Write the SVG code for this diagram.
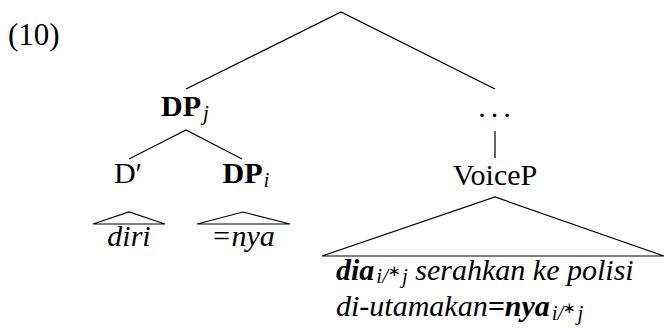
<svg xmlns="http://www.w3.org/2000/svg" width="665" height="333" viewBox="0 0 665 333" font-family="'Liberation Serif', 'Times New Roman', serif" font-size="30">
<style>
.sub{font-style:italic;font-size:21px;font-weight:normal}
.ss{font-style:normal;font-size:15px;font-weight:normal}
.e{stroke:#000;stroke-width:1.2;fill:none}
</style>
<rect width="665" height="333" fill="#fff"/>
<text x="8" y="45" font-size="31">(10)</text>
<g id="connectors">
<polyline class="e" points="186,89 341,12 495,89"/>
<polyline class="e" points="129,159 186,130 242,159"/>
<line class="e" x1="495" y1="131" x2="495" y2="158"/>
<polygon class="e" points="93,224 129,212 165,224"/>
<polygon class="e" points="197,224 243,212 290,224"/>
<polygon class="e" points="322,256 495,197 664,256"/>
</g>
<g id="dpj"><text x="185" y="116" font-weight="bold" text-anchor="middle">DP<tspan class="sub" dx="2" dy="4">j</tspan></text></g>
<g id="dprime"><text x="128" y="183" text-anchor="middle">D′</text></g>
<g id="dpi"><text x="246" y="183" font-weight="bold" text-anchor="middle">DP<tspan class="sub" dx="1" dy="4">i</tspan></text></g>
<g id="dots"><text x="497" y="117" text-anchor="middle" letter-spacing="5">...</text></g>
<g id="voicep"><text x="495" y="185" text-anchor="middle">VoiceP</text></g>
<g id="diri"><text x="129" y="246" font-style="italic" text-anchor="middle">diri</text></g>
<g id="nya"><text x="243" y="246" font-style="italic" text-anchor="middle">=nya</text></g>
<g id="voicep-content">
<text x="336" y="280" font-style="italic"><tspan font-weight="bold">dia</tspan><tspan class="sub" dx="2" dy="3">i/</tspan><tspan class="ss" dy="-7">∗</tspan><tspan class="sub" dx="1" dy="7">j</tspan><tspan dy="-3"> serahkan ke polisi</tspan></text>
<text x="336" y="316" font-style="italic">di-utamakan<tspan font-weight="bold">=nya</tspan><tspan class="sub" dx="2" dy="4">i/</tspan><tspan class="ss" dy="-7">∗</tspan><tspan class="sub" dx="1" dy="7">j</tspan></text>
</g>
</svg>
